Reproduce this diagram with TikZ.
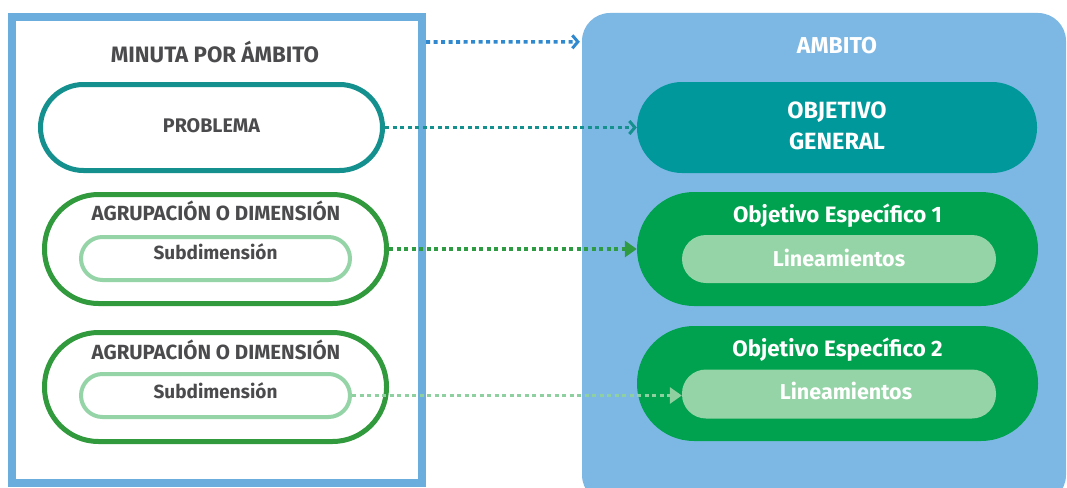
\documentclass[tikz,border=0pt]{standalone}
\usepackage{fontspec}
\setmainfont{Fira Sans}
\usetikzlibrary{arrows.meta}
\definecolor{leftblue}{HTML}{6BAEDD}
\definecolor{ambitofill}{HTML}{7DB8E4}
\definecolor{arrowblue}{HTML}{3089CF}
\definecolor{tealline}{HTML}{14918F}
\definecolor{tealfill}{HTML}{00989A}
\definecolor{grpgreen}{HTML}{319A3C}
\definecolor{objgreen}{HTML}{00A14F}
\definecolor{lightgreen}{HTML}{94D4A6}
\definecolor{textgray}{HTML}{4B4B4D}
\definecolor{darkarrow}{HTML}{2E9B42}
\definecolor{lightarrow}{HTML}{8ED0A0}
\tikzset{
  lbl/.code={\pgfmathsetmacro\lblh{0.69*#1}%
    \tikzset{inner sep=0pt, text height=\lblh pt, text depth=0pt, font=\bfseries\fontsize{#1}{#1}\selectfont}},
  pill/.style={rounded corners=#1, inner sep=0pt},
  dotline/.style={line width=3.6pt, dash pattern=on 4pt off 3.5pt},
  chev/.style={-{Straight Barb[length=5.5pt,width=13pt,line width=3pt]}},
  tri/.style={-{Triangle[length=12pt,width=16pt]}},
}
\begin{document}
\begin{tikzpicture}[x=1pt,y=-1pt]
\useasboundingbox (0,0) rectangle (1067,487);
\fill[white] (0,0) rectangle (1067,487);
% left frame
\node[draw=leftblue, line width=8pt, minimum width=410pt, minimum height=466pt, inner sep=0pt] (minuta) at (217,250) {};
\node[lbl=22.3, text=textgray] (mtitle) at (215,55) {MINUTA POR ÁMBITO};
% problema
\node[pill=43pt, draw=tealline, line width=5pt, fill=white, minimum width=342pt, minimum height=86pt] (prob) at (211.5,127.5) {};
\node[lbl=19.7, text=textgray] (probt) at (211.5,125.5) {PROBLEMA};
% group 1
\node[pill=54pt, draw=grpgreen, line width=5pt, fill=white, minimum width=342pt, minimum height=109pt] (grp1) at (215.5,249) {};
\node[lbl=20.5, text=textgray] (grp1t) at (216,213.5) {AGRUPACIÓN O DIMENSIÓN};
\node[pill=21.5pt, draw=lightgreen, line width=4pt, fill=white, minimum width=269pt, minimum height=43pt] (sub1) at (215.5,258.5) {};
\node[lbl=19, text=textgray] (sub1t) at (215.5,253) {Subdimensión};
% group 2
\node[pill=54pt, draw=grpgreen, line width=5pt, fill=white, minimum width=342pt, minimum height=109pt] (grp2) at (215.5,387) {};
\node[lbl=20.5, text=textgray] (grp2t) at (216,352.5) {AGRUPACIÓN O DIMENSIÓN};
\node[pill=21.5pt, draw=lightgreen, line width=4pt, fill=white, minimum width=269pt, minimum height=43pt] (sub2) at (215.5,395.5) {};
\node[lbl=19, text=textgray] (sub2t) at (215.5,392) {Subdimensión};
% right panel
\node[pill=28pt, fill=ambitofill, minimum width=484pt, minimum height=490pt] (ambito) at (824,258) {};
\node[lbl=23, text=white] (ambt) at (837,46) {AMBITO};
\node[pill=45pt, fill=tealfill, minimum width=400pt, minimum height=91pt] (objgen) at (837,127.5) {};
\node[lbl=23.5, text=white] (objgen1) at (837,110.5) {OBJETIVO};
\node[lbl=23.5, text=white] (objgen2) at (837,141.5) {GENERAL};
\node[pill=57pt, fill=objgreen, minimum width=401pt, minimum height=114pt] (obje1) at (837.5,249) {};
\node[lbl=22.3, text=white] (obje1t) at (837.5,214.5) {Objetivo Específico 1};
\node[pill=24pt, fill=lightgreen, minimum width=314pt, minimum height=48pt] (lin1) at (839,259) {};
\node[lbl=21.5, text=white] (lin1t) at (839,259) {Lineamientos};
\node[pill=57pt, fill=objgreen, minimum width=401pt, minimum height=115pt] (obje2) at (837.5,383.5) {};
\node[lbl=22.3, text=white] (obje2t) at (837.5,349) {Objetivo Específico 2};
\node[pill=24pt, fill=lightgreen, minimum width=314pt, minimum height=49pt] (lin2) at (839,394) {};
\node[lbl=21.5, text=white] (lin2t) at (846,392.5) {Lineamientos};
% connectors
\draw[dotline, chev, arrowblue] ([yshift=-29pt]minuta.north east) -- ([yshift=-29pt,xshift=-2pt]ambito.north west);
\draw[dotline, chev, tealline] (prob.east) -- (objgen.west);
\draw[dotline, tri, darkarrow] (grp1.east) -- (obje1.west);
\draw[dotline, tri, lightarrow] (sub2.east) -- (sub2.east -| lin2.west);
\end{tikzpicture}
\end{document}
